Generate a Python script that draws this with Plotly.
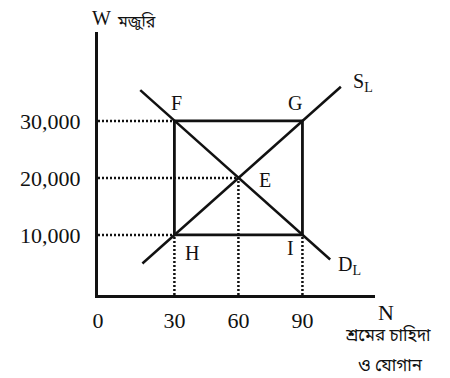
import plotly.graph_objects as go

# values
labour = [30, 60, 90]
wage = [10000, 20000, 30000]
wage_labels = ["10,000", "20,000", "30,000"]

demand_n = [14, 103]
demand_w = [35400, 5700]
supply_n = [15, 108]
supply_w = [5000, 36000]

# rectangle F-G-I-H and point E
box_n = [30, 90, 90, 30, 30]
box_w = [30000, 30000, 10000, 10000, 30000]
eq_n, eq_w = 60, 20000

x_min, x_max = -5.8, 124
y_min, y_max = -530, 45600

serif = "Liberation Serif, Times New Roman, serif"
beng = "Noto Sans Bengali, Noto Serif Bengali, Lohit Bengali, FreeSerif, serif"
black = "#111111"
dotted = dict(color=black, width=2.5, dash="2px,2px")

fig = go.Figure()

# dotted guides
fig.add_trace(go.Scatter(x=[x_min, labour[0]], y=[wage[2], wage[2]], mode="lines",
                         line=dotted, hoverinfo="skip"))
fig.add_trace(go.Scatter(x=[x_min, eq_n], y=[eq_w, eq_w], mode="lines",
                         line=dotted, hoverinfo="skip"))
fig.add_trace(go.Scatter(x=[x_min, labour[0]], y=[wage[0], wage[0]], mode="lines",
                         line=dotted, hoverinfo="skip"))
for n in labour:
    top = eq_w if n == eq_n else wage[0]
    fig.add_trace(go.Scatter(x=[n, n], y=[y_min, top], mode="lines",
                             line=dotted, hoverinfo="skip"))

# rectangle
fig.add_trace(go.Scatter(x=box_n, y=box_w, mode="lines",
                         line=dict(color=black, width=2.8), hoverinfo="skip"))

# demand and supply
fig.add_trace(go.Scatter(x=demand_n, y=demand_w, mode="lines",
                         line=dict(color=black, width=2.5), hoverinfo="skip"))
fig.add_trace(go.Scatter(x=supply_n, y=supply_w, mode="lines",
                         line=dict(color=black, width=2.5), hoverinfo="skip"))

def label(x, y, text, size=20):
    fig.add_annotation(x=x, y=y, text=text, showarrow=False,
                       font=dict(family=serif, size=size, color=black))

label(30.8, 33200, "F")
label(86.6, 33200, "G")
label(72.3, 19600, "E")
label(38.3, 6800, "H")
label(84.3, 7700, "I")
label(118.6, 36750, "S<sub>L</sub>")
label(111.9, 4570, "D<sub>L</sub>")

fig.update_layout(
    width=450, height=378,
    margin=dict(l=88, r=83, t=24, b=91),
    paper_bgcolor="white", plot_bgcolor="white",
    showlegend=False,
    xaxis=dict(range=[x_min, x_max], showgrid=False, zeroline=False,
               showline=True, linecolor=black, linewidth=3,
               tickvals=[x_min] + labour, ticktext=["0", "30", "60", "90"],
               ticks="", ticklabelstandoff=4,
               tickfont=dict(family=serif, size=22, color=black)),
    yaxis=dict(range=[y_min, y_max], showgrid=False, zeroline=False,
               showline=True, linecolor=black, linewidth=3,
               tickvals=wage, ticktext=wage_labels,
               ticks="", ticklabelstandoff=10,
               tickfont=dict(family=serif, size=22, color=black)),
)

# axis titles
fig.add_annotation(x=0.0, y=1.0, xref="paper", yref="paper", xanchor="left", yanchor="bottom",
                   xshift=-8, yshift=1, text="W", showarrow=False,
                   font=dict(family=serif, size=20, color=black))
fig.add_annotation(x=0.0, y=1.0, xref="paper", yref="paper", xanchor="left", yanchor="bottom",
                   xshift=17, yshift=-4, text="মজুরি", showarrow=False,
                   font=dict(family=beng, size=16, color=black))
fig.add_annotation(x=1.0, y=0.0, xref="paper", yref="paper", xanchor="left", yanchor="top",
                   xshift=1, yshift=-3, text="N", showarrow=False,
                   font=dict(family=serif, size=22, color=black))
fig.add_annotation(x=1.0, y=0.0, xref="paper", yref="paper", xanchor="center", yanchor="top",
                   xshift=13, yshift=-28, text="শ্রমের চাহিদা", showarrow=False,
                   font=dict(family=beng, size=17, color=black))
fig.add_annotation(x=1.0, y=0.0, xref="paper", yref="paper", xanchor="center", yanchor="top",
                   xshift=15, yshift=-58, text="ও যোগান", showarrow=False,
                   font=dict(family=beng, size=17, color=black))

fig.write_html("out.html")
